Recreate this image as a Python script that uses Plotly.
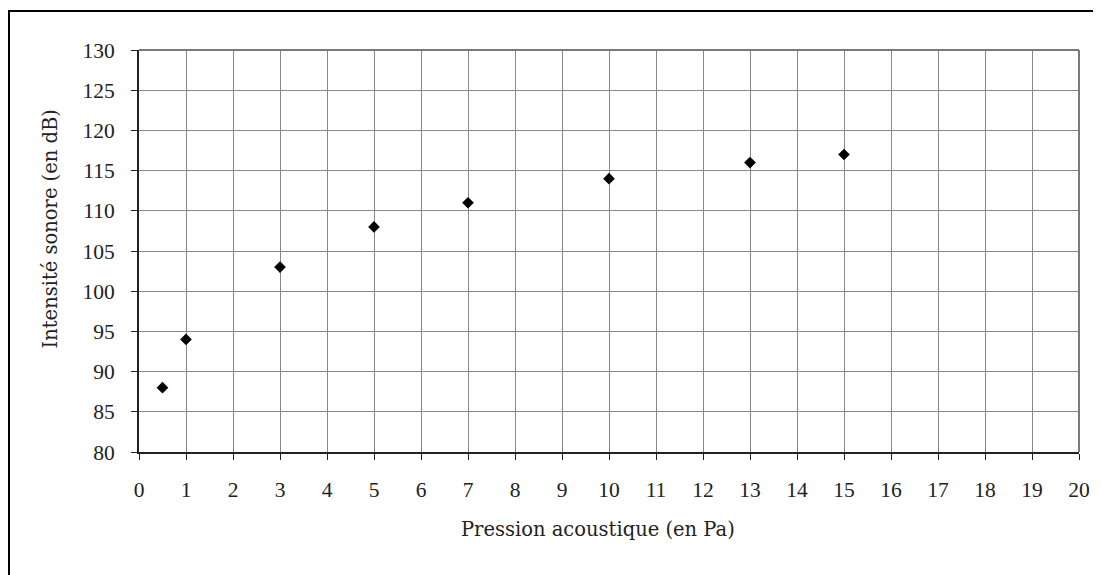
import plotly.graph_objects as go

pression = [0.5, 1, 3, 5, 7, 10, 13, 15]
intensite = [88, 94, 103, 108, 111, 114, 116, 117]
x_ticks = list(range(0, 21))
y_ticks = list(range(80, 131, 5))
x_title = "Pression acoustique (en Pa)"
y_title = "Intensité sonore (en dB)"

# page has an 8px body margin: size the figure so it fits the 1101x575 window
OFF = 8
W, H = 1101 - OFF, 575 - OFF
L, R, T, B = 139 - OFF, 22, 50 - OFF, 123

tick_font = dict(family="Liberation Serif, DejaVu Serif, serif", size=21.5, color="#222")
title_font = dict(family="DejaVu Serif, Liberation Serif, serif", size=19.5, color="#222")

fig = go.Figure()
fig.add_trace(go.Scatter(
    x=pression, y=intensite, mode="markers",
    marker=dict(symbol="diamond", size=9, color="black"),
    showlegend=False, cliponaxis=False,
))

fig.update_layout(
    width=W, height=H,
    margin=dict(l=L, r=R, t=T, b=B),
    paper_bgcolor="white", plot_bgcolor="white",
    font=tick_font,
)
fig.update_xaxes(
    range=[0, 20], tickvals=x_ticks, ticktext=[str(v) for v in x_ticks],
    tickfont=tick_font,
    showgrid=True, gridcolor="#888888", gridwidth=1,
    showline=True, linecolor="#222", linewidth=2,
    ticks="outside", ticklen=6, tickcolor="#222", tickwidth=1,
    ticklabelstandoff=11,
    zeroline=False, mirror=False,
)
fig.update_yaxes(
    range=[80, 130], tickvals=y_ticks,
    tickfont=tick_font,
    showgrid=True, gridcolor="#888888", gridwidth=1,
    showline=True, linecolor="#222", linewidth=2,
    ticks="outside", ticklen=6, tickcolor="#222", tickwidth=1,
    ticklabelstandoff=12,
    zeroline=False,
)
pw = W - L - R
ph = H - T - B
# axis titles (placed as in the reference, slightly off-centre)
fig.add_annotation(text=x_title, xref="paper", yref="paper",
                   x=(597.5 - 139) / pw, y=(452 - 529) / ph,
                   xanchor="center", yanchor="middle", showarrow=False, font=title_font)
fig.add_annotation(text=y_title, xref="paper", yref="paper", textangle=-90,
                   x=(50 - 139) / pw, y=(452 - 229.5) / ph,
                   xanchor="center", yanchor="middle", showarrow=False, font=title_font)
# top/right plot edges (grey)
fig.add_shape(type="line", xref="paper", yref="paper", x0=0, x1=1, y0=1, y1=1,
              line=dict(color="#7a7a7a", width=2))
fig.add_shape(type="line", xref="paper", yref="paper", x0=1, x1=1, y0=0, y1=1,
              line=dict(color="#7a7a7a", width=2))
# outer frame (left and top edges visible)
fx0 = (9 - OFF - L) / pw
fy1 = (H - B - (11 - OFF)) / ph
fig.add_shape(type="rect", xref="paper", yref="paper",
              x0=fx0, x1=1.5, y0=-1, y1=fy1,
              line=dict(color="black", width=2), layer="below")

fig.write_html("out.html")
